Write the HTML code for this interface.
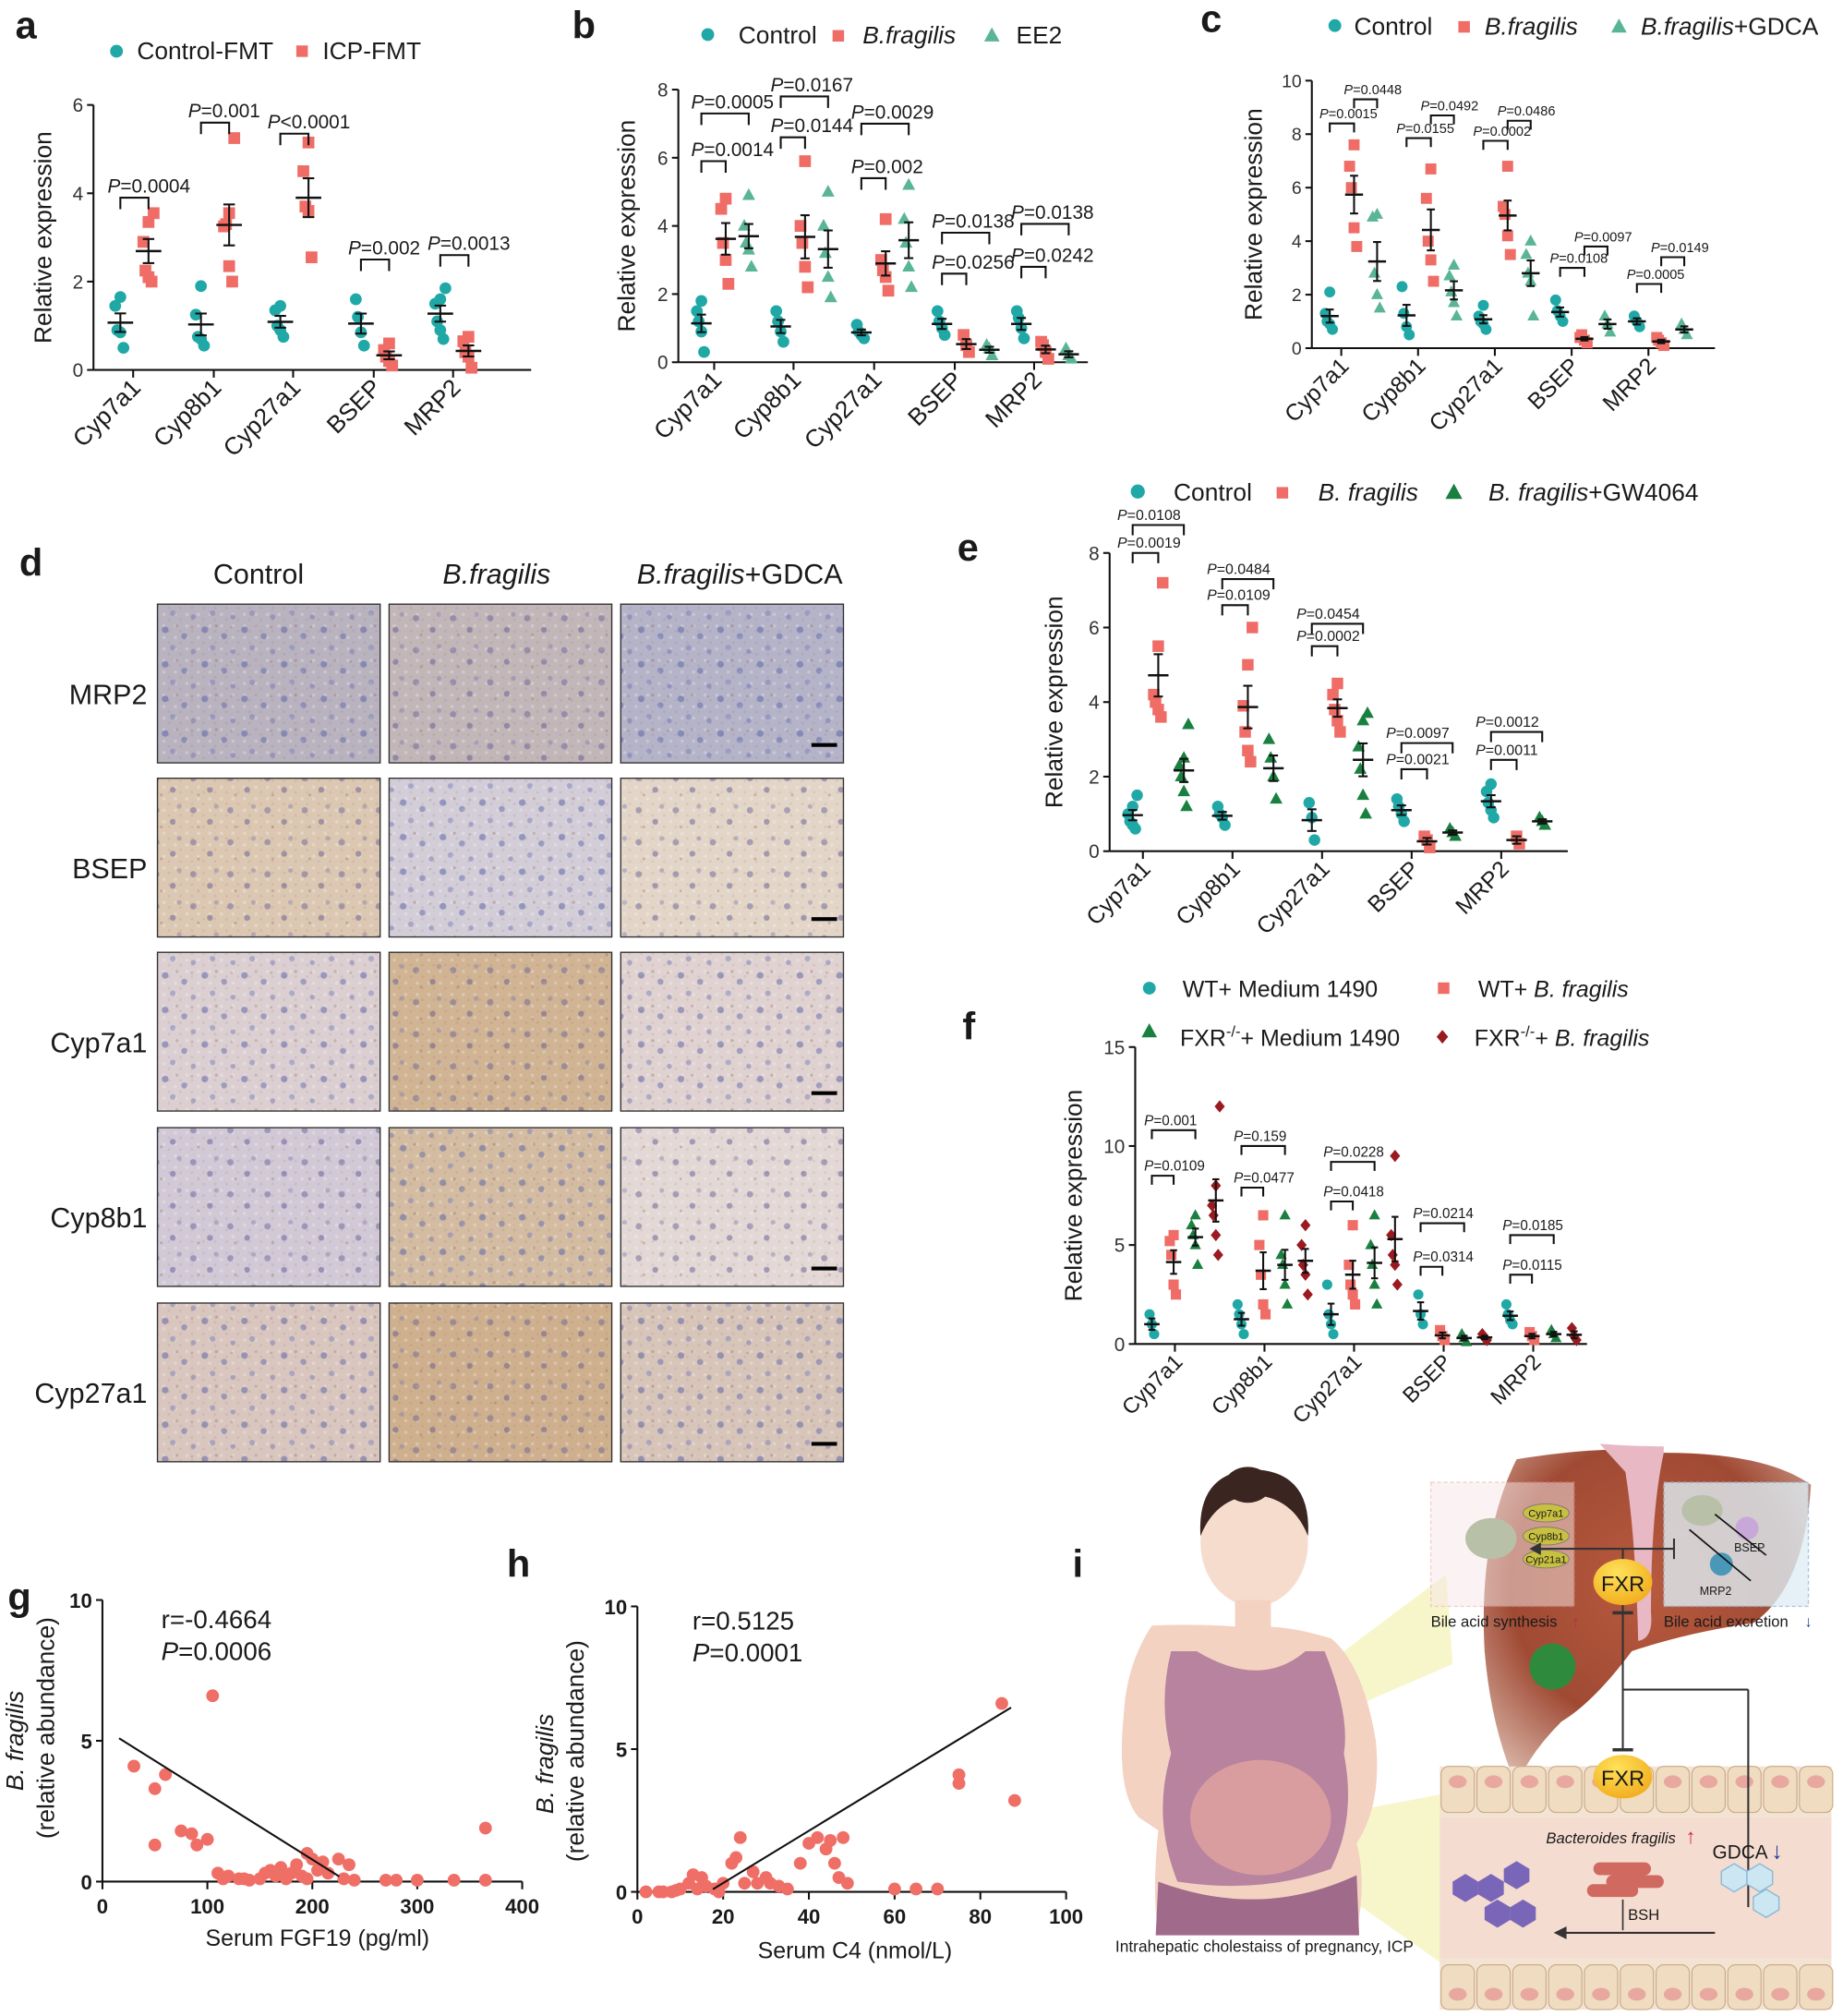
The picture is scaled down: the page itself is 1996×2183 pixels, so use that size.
<!DOCTYPE html>
<html><head><meta charset="utf-8">
<style>
html,body{margin:0;padding:0;background:#fff;}
svg{display:block;}
text{font-family:"Liberation Sans",Arial,sans-serif;fill:#1a1a1a;}
</style></head>
<body>
<svg id="s" width="1996" height="2183" viewBox="0 0 1440 1575" xmlns="http://www.w3.org/2000/svg">
<defs>
<pattern id="nuc" width="31" height="27" patternUnits="userSpaceOnUse">
<circle cx="5" cy="6" r="2.6" fill="#5f68a8" opacity="0.55"/>
<circle cx="20" cy="11" r="2.4" fill="#5f68a8" opacity="0.5"/>
<circle cx="11" cy="20" r="2.2" fill="#7a7fb8" opacity="0.5"/>
<circle cx="27" cy="23" r="2.0" fill="#6a70b0" opacity="0.45"/>
<circle cx="14" cy="3" r="1.2" fill="#8a6a50" opacity="0.35"/>
<circle cx="26" cy="4" r="1.0" fill="#8a6a50" opacity="0.3"/>
</pattern>
<pattern id="nuc2" width="29" height="25" patternUnits="userSpaceOnUse">
<circle cx="6" cy="8" r="2.5" fill="#6a649a" opacity="0.5"/>
<circle cx="19" cy="17" r="2.3" fill="#5f5a92" opacity="0.5"/>
<circle cx="24" cy="5" r="1.9" fill="#7a76a8" opacity="0.4"/>
<circle cx="10" cy="21" r="1.1" fill="#8a6a50" opacity="0.35"/>
</pattern>
<pattern id="tex" width="9" height="9" patternUnits="userSpaceOnUse">
<rect x="0" y="0" width="9" height="9" fill="none"/>
<circle cx="2" cy="3" r="1.3" fill="#ffffff" opacity="0.25"/>
<circle cx="6" cy="7" r="1.1" fill="#7a6050" opacity="0.12"/>
</pattern>
<radialGradient id="liv" cx="0.5" cy="0.4" r="0.7"><stop offset="0" stop-color="#b85a3e"/><stop offset="0.6" stop-color="#a04a34"/><stop offset="1" stop-color="#d9b6a8"/></radialGradient>
<radialGradient id="fxr" cx="0.4" cy="0.3" r="0.8"><stop offset="0" stop-color="#ffe25a"/><stop offset="1" stop-color="#f0a818"/></radialGradient>
</defs>
<g id="g"></g>
</svg>
<script>
var out=[];
function T(x,y,s,size,opt){opt=opt||{};out.push('<text x="'+x+'" y="'+y+'" font-size="'+size+'"'+(opt.anchor?' text-anchor="'+opt.anchor+'"':'')+(opt.w?' font-weight="'+opt.w+'"':'')+(opt.it?' font-style="italic"':'')+(opt.tr?' transform="'+opt.tr+'"':'')+(opt.fill?' style="fill:'+opt.fill+'"':'')+'>'+s+'</text>');}
function L(x1,y1,x2,y2,w,c){out.push('<line x1="'+x1+'" y1="'+y1+'" x2="'+x2+'" y2="'+y2+'" stroke="'+(c||'#111')+'" stroke-width="'+(w||1.5)+'"/>');}
function mark(t,x,y,c,s){
 if(t=='c')out.push('<circle cx="'+x+'" cy="'+y+'" r="'+s+'" fill="'+c+'"/>');
 else if(t=='s')out.push('<rect x="'+(x-s)+'" y="'+(y-s)+'" width="'+(2*s)+'" height="'+(2*s)+'" fill="'+c+'"/>');
 else if(t=='t')out.push('<polygon points="'+x+','+(y-s*1.2)+' '+(x-s*1.1)+','+(y+s*0.8)+' '+(x+s*1.1)+','+(y+s*0.8)+'" fill="'+c+'"/>');
 else if(t=='d')out.push('<polygon points="'+x+','+(y-s*1.2)+' '+(x+s)+','+y+' '+x+','+(y+s*1.2)+' '+(x-s)+','+y+'" fill="'+c+'"/>');
}
var P='<tspan font-style="italic">P</tspan>';
var cats=['Cyp7a1','Cyp8b1','Cyp27a1','BSEP','MRP2'];
function plot(o){
 var sc=(o.y0-o.yTop)/o.yMax; function Y(v){return o.y0-v*sc;}
 L(o.x0,o.y0,o.x0,o.yTop,1.5);L(o.x0,o.y0,o.xEnd,o.y0,1.5);
 o.yTicks.forEach(function(v){L(o.x0-5,Y(v),o.x0,Y(v),1.5);T(o.x0-8,Y(v)+o.tf*0.36,v,o.tf,{anchor:'end',fill:'#333'});});
 T(0,0,'Relative  expression',o.yf,{anchor:'middle',tr:'translate('+o.ylx+','+((o.y0+o.yTop)/2)+') rotate(-90)'});
 o.ticks.forEach(function(tx,i){L(tx,o.y0,tx,o.y0+6,1.5);
  T(0,0,cats[i],o.cf,{anchor:'end',tr:'translate('+(tx+7)+','+(o.y0+15)+') rotate(-45)'});
  o.data[i].forEach(function(arr,g){var gx=tx+o.offs[g];
   arr.forEach(function(v,k){var j=((k%3)-1)*o.jit*(k%2?1:-0.6);mark(o.mk[g][0],gx+j,Y(v),o.mk[g][1],o.ms);});
   var m=arr.reduce(function(a,b){return a+b},0)/arr.length;var sd=Math.sqrt(arr.reduce(function(a,b){return a+(b-m)*(b-m)},0)/Math.max(1,arr.length-1));var se=sd/Math.sqrt(arr.length);
   L(gx-o.mw,Y(m),gx+o.mw,Y(m),1.8);L(gx,Y(m-se),gx,Y(m+se),1.5);L(gx-o.mw*0.45,Y(m-se),gx+o.mw*0.45,Y(m-se),1.5);L(gx-o.mw*0.45,Y(m+se),gx+o.mw*0.45,Y(m+se),1.5);
  });
 });
 o.br.forEach(function(b){var x1=o.ticks[b[0]]+o.offs[b[1]],x2=o.ticks[b[0]]+o.offs[b[2]],y=Y(b[3]);
  out.push('<polyline points="'+x1+','+(y+o.bh)+' '+x1+','+y+' '+x2+','+y+' '+x2+','+(y+o.bh)+'" fill="none" stroke="#111" stroke-width="1.5"/>');
  var lab=b[4].charAt(0)=='<'?P+'&lt;'+b[4].slice(1):P+'='+b[4];
  T(x1+(o.bdx||-8),y-4,lab,o.bf,{});});
}
var TE='#1fa8a6',RD='#ef6d66',LG='#5ab596',DG='#1a8040',DR='#9a1a1f';
T(12,30,'a',30,{w:'bold'});T(447,30,'b',30,{w:'bold'});T(938,25,'c',30,{w:'bold'});
T(15,450,'d',30,{w:'bold'});T(748,438,'e',30,{w:'bold'});T(752,812,'f',30,{w:'bold'});
T(6,1258,'g',30,{w:'bold'});T(396,1232,'h',30,{w:'bold'});T(838,1232,'i',30,{w:'bold'});
// a
mark('c',91,40,TE,5);T(107,46,'Control-FMT',19);mark('s',236,40,RD,4.5);T(252,46,'ICP-FMT',19);
plot({x0:73,y0:289,yTop:82,yMax:6,yTicks:[0,2,4,6],xEnd:415,tf:15,yf:19,ylx:40,cf:19,
 ticks:[104,167,229,292,354],offs:[-10,12],jit:4,ms:4.6,mw:10,mk:[['c',TE],['s',RD]],bh:9,bf:15,bdx:-10,
 data:[[[0.5,0.85,0.9,1.45,1.65],[2.0,2.1,2.25,2.9,3.35,3.55]],[[0.55,0.7,0.75,1.25,1.9],[2.0,2.35,3.3,3.25,3.55,5.25]],[[0.75,0.9,1.0,1.35,1.45],[2.55,3.6,3.7,4.5,5.15]],[[0.55,0.85,1.2,1.6],[0.1,0.2,0.3,0.45,0.6]],[[0.7,0.9,1.1,1.5,1.6,1.85],[0.05,0.3,0.4,0.65,0.75]]],
 br:[[0,0,1,3.9,'0.0004'],[1,0,1,5.6,'0.001'],[2,0,1,5.35,'<0.0001'],[3,0,1,2.5,'0.002'],[4,0,1,2.6,'0.0013']]});
// b
mark('c',553,27,TE,5);T(577,34,'Control',19);mark('s',655,28,RD,4.5);T(674,34,'B.fragilis',19,{it:1});mark('t',775,28,LG,5.5);T(794,34,'EE2',19);
plot({x0:530,y0:283,yTop:70,yMax:8,yTicks:[0,2,4,6,8],xEnd:850,tf:15,yf:19,ylx:496,cf:19,
 ticks:[558,620,683,746,808],offs:[-10,9,27],jit:3.5,ms:4.6,mw:8,mk:[['c',TE],['s',RD],['t',LG]],bh:9,bf:15,bdx:-8,
 data:[[[0.3,0.9,1.2,1.5,1.8],[2.3,3.0,3.5,4.5,4.8],[2.8,3.3,3.5,4.0,4.9]],[[0.6,0.9,1.2,1.5],[2.2,2.8,3.5,4.0,5.9],[1.9,2.5,3.2,4.0,5.0]],[[0.7,0.8,0.9,1.1],[2.1,2.5,2.7,3.0,4.2],[2.2,2.8,3.5,4.2,5.2]],[[0.8,1.0,1.2,1.5],[0.3,0.5,0.8],[0.2,0.4,0.5]],[[0.7,1.0,1.3,1.5],[0.1,0.3,0.5,0.6],[0.1,0.2,0.4]]],
 br:[[0,0,1,5.9,'0.0014'],[0,0,2,7.3,'0.0005'],[1,0,1,6.6,'0.0144'],[1,0,2,7.8,'0.0167'],[2,0,1,5.4,'0.002'],[2,0,2,7.0,'0.0029'],[3,0,1,2.6,'0.0256'],[3,0,2,3.8,'0.0138'],[4,0,1,2.8,'0.0242'],[4,0,2,4.06,'0.0138']]});
// c
mark('c',1043,20,TE,5);T(1058,27,'Control',19);mark('s',1144,21,RD,4.5);T(1160,27,'B.fragilis',19,{it:1});mark('t',1265,21,LG,5.5);T(1282,27,'<tspan font-style="italic">B.fragilis</tspan>+GDCA',19);
plot({x0:1025,y0:272,yTop:63,yMax:10,yTicks:[0,2,4,6,8,10],xEnd:1340,tf:14,yf:19,ylx:986,cf:18,
 ticks:[1048,1108,1168,1228,1288],offs:[-9,10,28],jit:3.5,ms:4.3,mw:7,mk:[['c',TE],['s',RD],['t',LG]],bh:7,bf:10.5,bdx:-8,
 data:[[[0.7,0.9,1.0,1.3,2.1],[3.8,4.5,6.0,6.8,7.6],[1.5,2.0,2.8,4.9,5.0]],[[0.5,0.8,1.3,2.3],[2.5,3.3,4.0,5.6,6.7],[1.2,1.7,2.1,2.7,3.1]],[[0.7,0.9,1.0,1.2,1.6],[3.5,4.2,5.0,5.3,6.8],[1.2,2.5,2.8,3.5,4.0]],[[1.0,1.2,1.4,1.8],[0.2,0.3,0.5,0.4],[0.6,0.9,1.2]],[[0.8,1.0,1.2],[0.1,0.2,0.3,0.4],[0.5,0.7,0.9]]],
 br:[[0,0,1,8.4,'0.0015'],[0,1,2,9.3,'0.0448'],[1,0,1,7.85,'0.0155'],[1,1,2,8.7,'0.0492'],[2,0,1,7.75,'0.0002'],[2,1,2,8.5,'0.0486'],[3,0,1,3.0,'0.0108'],[3,1,2,3.8,'0.0097'],[4,0,1,2.4,'0.0005'],[4,1,2,3.4,'0.0149']]});
// e
mark('c',889,384,TE,5.5);T(917,391,'Control',19);mark('s',1002,385,RD,4.5);T(1030,391,'B. fragilis',19,{it:1});mark('t',1136,385,DG,6);T(1163,391,'<tspan font-style="italic">B. fragilis</tspan>+GW4064',19);
plot({x0:867,y0:665,yTop:432,yMax:8,yTicks:[0,2,4,6,8],xEnd:1225,tf:15,yf:19,ylx:830,cf:18,
 ticks:[893,963,1033,1103,1173],offs:[-8,12,32],jit:3.5,ms:4.5,mw:8,mk:[['c',TE],['s',RD],['t',DG]],bh:8,bf:11.5,bdx:-12,
 data:[[[0.6,0.7,0.8,1.0,1.2,1.5],[3.6,3.8,4.0,4.2,5.5,7.2],[1.2,1.6,2.0,2.3,2.5,3.4]],[[0.7,0.9,1.0,1.2],[2.4,2.7,3.2,3.9,5.0,6.0],[1.4,2.0,2.5,3.0]],[[0.3,0.9,1.3],[3.2,3.5,3.8,4.2,4.5],[1.0,1.5,2.2,2.8,3.5,3.7]],[[0.8,1.0,1.2,1.4],[0.1,0.3,0.4],[0.4,0.5,0.6]],[[0.9,1.1,1.3,1.6,1.8],[0.2,0.4],[0.7,0.8,0.9]]],
 br:[[0,0,1,8.0,'0.0019'],[0,0,2,8.75,'0.0108'],[1,0,1,6.6,'0.0109'],[1,0,2,7.3,'0.0484'],[2,0,1,5.5,'0.0002'],[2,0,2,6.1,'0.0454'],[3,0,1,2.2,'0.0021'],[3,0,2,2.9,'0.0097'],[4,0,1,2.45,'0.0011'],[4,0,2,3.2,'0.0012']]});
// f
mark('c',898,772,TE,5);T(924,779,'WT+ Medium 1490',18);mark('s',1128,772,RD,4.5);T(1155,779,'WT+ <tspan font-style="italic">B. fragilis</tspan>',18);
mark('t',898,806,DG,5.5);T(922,817,'FXR<tspan dy="-7" font-size="12">-/-</tspan><tspan dy="7">+ Medium 1490</tspan>',18);mark('d',1127,810,DR,4.5);T(1152,817,'FXR<tspan dy="-7" font-size="12">-/-</tspan><tspan dy="7">+ </tspan><tspan font-style="italic">B. fragilis</tspan>',18);
plot({x0:887,y0:1050,yTop:818,yMax:15,yTicks:[0,5,10,15],xEnd:1240,tf:15,yf:19,ylx:845,cf:17,
 ticks:[918,988,1058,1128,1198],offs:[-18,-1,16,32],jit:3,ms:4,mw:6,mk:[['c',TE],['s',RD],['t',DG],['d',DR]],bh:7,bf:11,bdx:-6,
 data:[[[0.5,1.0,1.5],[2.5,3.0,4.5,5.2,5.5],[4.0,5.0,5.5,6.0,6.5],[4.5,5.5,6.5,7.0,8.0,12.0]],[[0.5,1.0,1.5,2.0],[1.5,2.0,3.5,5.0,6.5],[2.0,3.0,4.0,4.5,6.5],[2.5,3.5,4.0,5.0,6.0]],[[0.5,1.0,1.5,3.0],[2.0,2.5,3.0,4.0,6.0],[2.0,3.0,4.0,5.0,6.5],[3.0,4.0,4.5,5.5,9.5]],[[1.0,1.5,2.5],[0.2,0.4,0.7],[0.1,0.3,0.5],[0.2,0.3,0.5]],[[1.0,1.2,1.5,2.0],[0.2,0.4,0.6],[0.3,0.5,0.7],[0.2,0.4,0.8]]],
 br:[[0,0,2,10.8,'0.001'],[0,0,1,8.5,'0.0109'],[1,0,2,10.0,'0.159'],[1,0,1,7.9,'0.0477'],[2,0,2,9.2,'0.0228'],[2,0,1,7.2,'0.0418'],[3,0,2,6.1,'0.0214'],[3,0,1,3.9,'0.0314'],[4,0,2,5.5,'0.0185'],[4,0,1,3.5,'0.0115']]});
// d IHC
T(202,456,'Control',22,{anchor:'middle'});T(388,456,'B.fragilis',22,{anchor:'middle',it:1});T(578,456,'<tspan font-style="italic">B.fragilis</tspan>+GDCA',22,{anchor:'middle'});
var rows=['MRP2','BSEP','Cyp7a1','Cyp8b1','Cyp27a1'],ry=[472,608,744,881,1018];
var cols=[123,304,485];
var bases=[['#b9b2bf','#c2b6b8','#b4b3c8'],['#dcc8b2','#d3cdd8','#e3d6c8'],['#dccfd2','#d0b493','#e0d2d0'],['#d2c9d6','#d4bca2','#e3d8d5'],['#d9c6bf','#cfb08e','#d8c5ba']];
rows.forEach(function(r,i){T(115,ry[i]+78,r,22,{anchor:'end'});
 cols.forEach(function(cx,j){out.push('<rect x="'+cx+'" y="'+ry[i]+'" width="174" height="124" fill="'+bases[i][j]+'"/>');
  out.push('<rect x="'+cx+'" y="'+ry[i]+'" width="174" height="124" fill="url(#tex)"/>');
  out.push('<rect x="'+cx+'" y="'+ry[i]+'" width="174" height="124" fill="url(#'+((i+j)%2?'nuc2':'nuc')+')" stroke="#333" stroke-width="1"/>');});
 L(634,ry[i]+110,654,ry[i]+110,3,'#000');
});
// g
(function(){var x0=80,y0=1470,sx=328/400,sy=22;function X(v){return x0+v*sx}function Y(v){return y0-v*sy}
L(x0,y0,x0,1250,1.5);L(x0,y0,x0+328,y0,1.5);
[0,5,10].forEach(function(v){L(x0-5,Y(v),x0,Y(v));T(x0-8,Y(v)+6,v,16,{anchor:'end',w:'bold'});});
[0,100,200,300,400].forEach(function(v){L(X(v),y0,X(v),y0+6);T(X(v),y0+25,v,16,{anchor:'middle',w:'bold'});});
T(248,1520,'Serum FGF19 (pg/ml)',18,{anchor:'middle'});
T(0,0,'B. fragilis',19,{anchor:'middle',it:1,tr:'translate(18,1360) rotate(-90)'});
T(0,0,'(relative abundance)',19,{anchor:'middle',tr:'translate(42,1350) rotate(-90)'});
T(126,1272,'r=-0.4664',20);T(126,1297,P+'=0.0006',20);
[[30,4.1],[50,3.3],[60,3.8],[50,1.3],[75,1.8],[85,1.7],[90,1.3],[100,1.5],[105,6.6],[110,0.3],[115,0.1],[120,0.2],[135,0.1],[140,0.05],[150,0.1],[155,0.3],[160,0.4],[165,0.2],[170,0.5],[175,0.1],[180,0.3],[185,0.6],[190,0.2],[195,1.0],[200,0.8],[205,0.4],[210,0.7],[215,0.3],[225,0.8],[230,0.1],[235,0.6],[240,0.05],[270,0.05],[280,0.05],[300,0.05],[335,0.05],[365,1.9],[365,0.05],[195,0.1],[130,0.1]].forEach(function(p){mark('c',X(p[0]),Y(p[1]),'#ef6f67',5);});
L(93,1358,265,1466,1.5);})();
// h
(function(){var x0=498,y0=1478,sx=3.35,sy=22.3;function X(v){return x0+v*sx}function Y(v){return y0-v*sy}
L(x0,y0,x0,1255,1.5);L(x0,y0,x0+335,y0,1.5);
[0,5,10].forEach(function(v){L(x0-5,Y(v),x0,Y(v));T(x0-8,Y(v)+6,v,16,{anchor:'end',w:'bold'});});
[0,20,40,60,80,100].forEach(function(v){L(X(v),y0,X(v),y0+6);T(X(v),y0+25,v,16,{anchor:'middle',w:'bold'});});
T(668,1530,'Serum C4 (nmol/L)',18,{anchor:'middle'});
T(0,0,'B. fragilis',19,{anchor:'middle',it:1,tr:'translate(432,1378) rotate(-90)'});
T(0,0,'(relative abundance)',19,{anchor:'middle',tr:'translate(456,1368) rotate(-90)'});
T(541,1273,'r=0.5125',20);T(541,1298,P+'=0.0001',20);
[[2,0],[5,0],[8,0],[10,0.1],[12,0.3],[13,0.6],[15,0.5],[16,0.2],[18,0.1],[20,0.3],[22,1.0],[23,1.2],[24,1.9],[25,0.3],[27,0.7],[28,0.3],[30,0.5],[31,0.3],[40,1.7],[42,1.9],[44,1.5],[45,1.8],[46,1.0],[47,0.5],[48,1.9],[49,0.3],[60,0.1],[65,0.1],[70,0.1],[75,4.1],[75,3.8],[85,6.6],[88,3.2],[6,0],[9,0.05],[14,0.1],[19,0],[33,0.2],[35,0.1],[38,1.0]].forEach(function(p){mark('c',X(p[0]),Y(p[1]),'#ef6f67',5);});
L(557,1476,790,1334,1.5);})();
// i illustration
out.push('<polygon points="1010,1320 1130,1230 1135,1300 1020,1350" fill="#f2f0a8" opacity="0.6"/>');
out.push('<polygon points="1030,1420 1135,1400 1135,1540 1050,1480" fill="#f2f0a8" opacity="0.6"/>');
out.push('<path d="M900,1270 Q880,1300 878,1340 Q872,1400 890,1420 L905,1430 Q900,1480 905,1510 L1060,1510 Q1068,1470 1060,1440 Q1080,1410 1075,1360 Q1065,1300 1040,1280 Q1000,1268 980,1272 Q940,1268 900,1270 Z" fill="#f3d2c2"/>');
out.push('<path d="M915,1290 L935,1290 Q985,1320 1020,1290 L1035,1290 Q1055,1340 1050,1370 Q1060,1420 1040,1460 Q985,1480 920,1470 Q900,1420 915,1370 Q905,1330 915,1290 Z" fill="#b07a9a" opacity="0.9"/>');
out.push('<path d="M905,1470 Q985,1500 1060,1465 L1062,1512 L903,1512 Z" fill="#a06a8a"/>');
out.push('<ellipse cx="985" cy="1420" rx="55" ry="45" fill="#e8a8a0" opacity="0.7"/>');
out.push('<ellipse cx="980" cy="1205" rx="42" ry="50" fill="#f6dccd"/>');
out.push('<path d="M938,1200 Q935,1150 980,1148 Q1025,1150 1022,1200 Q1010,1170 980,1168 Q950,1170 938,1200 Z" fill="#3a2520"/>');
out.push('<ellipse cx="975" cy="1160" rx="18" ry="14" fill="#3a2520"/>');
out.push('<rect x="965" y="1250" width="28" height="30" fill="#f3d2c2"/>');
T(988,1525,'Intrahepatic cholestaiss of pregnancy, ICP',12.5,{anchor:'middle'});
// liver
out.push('<path d="M1185,1140 Q1260,1128 1300,1135 Q1380,1135 1415,1160 Q1410,1240 1370,1268 Q1320,1275 1275,1290 Q1245,1330 1220,1345 Q1195,1370 1185,1395 Q1165,1350 1160,1290 Q1155,1200 1185,1140 Z" fill="url(#liv)"/>');
out.push('<path d="M1250,1128 Q1280,1130 1300,1130 L1300,1135 Q1290,1180 1290,1260 Q1292,1280 1280,1282 Q1278,1200 1270,1150 Z" fill="#e8b8c4"/>');
out.push('<circle cx="1213" cy="1302" r="18" fill="#2e8b3e"/>');
out.push('<rect x="1118" y="1158" width="112" height="97" fill="#f8e8e8" opacity="0.5" stroke="#e8a0a0" stroke-dasharray="3,2"/>');
out.push('<rect x="1300" y="1158" width="113" height="97" fill="#dfeef5" opacity="0.8" stroke="#9cb8d8" stroke-dasharray="3,2"/>');
['Cyp7a1','Cyp8b1','Cyp21a1'].forEach(function(s,i){out.push('<ellipse cx="1208" cy="'+(1182+i*18)+'" rx="18" ry="7" fill="#c8c040" stroke="#777" stroke-width="0.6"/>');T(1208,1185+i*18,s,8,{anchor:'middle'});});
out.push('<ellipse cx="1165" cy="1202" rx="20" ry="16" fill="#b8c0a8"/>');
out.push('<ellipse cx="1330" cy="1180" rx="16" ry="12" fill="#b8c0a8"/>');
out.push('<circle cx="1365" cy="1194" r="9" fill="#c8a8d8"/>');out.push('<circle cx="1345" cy="1222" r="9" fill="#4a98b8"/>');
T(1355,1212,'BSEP',9);T(1328,1246,'MRP2',9);
L(1340,1183,1380,1215,1.2);L(1320,1195,1368,1235,1.2);
T(1118,1271,'Bile acid synthesis',12);T(1300,1271,'Bile acid excretion',12);
T(1228,1271,'↑',12,{fill:'#b03040'});T(1410,1271,'↓',12,{fill:'#2040a0'});
L(1268,1210,1198,1210,1.5,'#333');out.push('<polygon points="1195,1210 1204,1205 1204,1215" fill="#333"/>');L(1268,1210,1308,1210,1.5,'#333');L(1308,1202,1308,1218,1.5,'#333');
L(1268,1210,1268,1225,1.5,'#333');
// intestine
out.push('<rect x="1125" y="1380" width="306" height="190" fill="#f3e3d2"/>');
out.push('<rect x="1125" y="1420" width="306" height="110" fill="#f5dcd0"/>');
for(var k=0;k<11;k++){var cx=1125+k*28;out.push('<rect x="'+(cx+1)+'" y="1380" width="26" height="36" rx="6" fill="#f0dcc0" stroke="#c8a888" stroke-width="0.8"/><ellipse cx="'+(cx+14)+'" cy="1392" rx="7" ry="5" fill="#e8a8a0"/>');
out.push('<rect x="'+(cx+1)+'" y="1535" width="26" height="35" rx="6" fill="#f0dcc0" stroke="#c8a888" stroke-width="0.8"/><ellipse cx="'+(cx+14)+'" cy="1558" rx="7" ry="5" fill="#e8a8a0"/>');}
out.push('<ellipse cx="1268" cy="1388" rx="23" ry="17" fill="url(#fxr)"/>');T(1268,1395,'FXR',17,{anchor:'middle'});
out.push('<ellipse cx="1268" cy="1236" rx="23" ry="18" fill="url(#fxr)"/>');T(1268,1243,'FXR',17,{anchor:'middle'});
L(1268,1254,1268,1367,1.5,'#333');L(1260,1260,1276,1260,2.5,'#333');L(1260,1367,1276,1367,2.5,'#333');
L(1268,1320,1366,1320,1.5,'#333');L(1366,1320,1366,1490,1.5,'#333');
T(1208,1440,'Bacteroides fragilis',12,{it:1});T(1317,1440,'↑',16,{fill:'#d03040'});
T(1338,1452,'GDCA',15);T(1384,1452,'↓',18,{fill:'#2040a0',w:'bold'});
out.push('<g fill="#d06a60"><rect x="1245" y="1455" width="45" height="10" rx="5"/><rect x="1255" y="1465" width="45" height="10" rx="5"/><rect x="1240" y="1472" width="40" height="10" rx="5"/></g>');
L(1268,1484,1268,1508,1.2,'#333');T(1272,1500,'BSH',12);
L(1340,1510,1218,1510,1.5,'#333');out.push('<polygon points="1214,1510 1224,1505 1224,1515" fill="#333"/>');
out.push('<g fill="#7a66b8"><polygon points="1135,1470 1145,1464 1155,1470 1155,1480 1145,1486 1135,1480"/><polygon points="1155,1470 1165,1464 1175,1470 1175,1480 1165,1486 1155,1480"/><polygon points="1175,1460 1185,1454 1195,1460 1195,1470 1185,1476 1175,1470"/><polygon points="1160,1490 1170,1484 1180,1490 1180,1500 1170,1506 1160,1500"/><polygon points="1180,1490 1190,1484 1200,1490 1200,1500 1190,1506 1180,1500"/></g>');
out.push('<g fill="#cce6f2" stroke="#8ab8d8"><polygon points="1345,1462 1355,1456 1365,1462 1365,1472 1355,1478 1345,1472"/><polygon points="1365,1462 1375,1456 1385,1462 1385,1472 1375,1478 1365,1472"/><polygon points="1370,1482 1380,1476 1390,1482 1390,1492 1380,1498 1370,1492"/></g>');
document.getElementById('g').innerHTML=out.join('');
</script>
</body></html>
